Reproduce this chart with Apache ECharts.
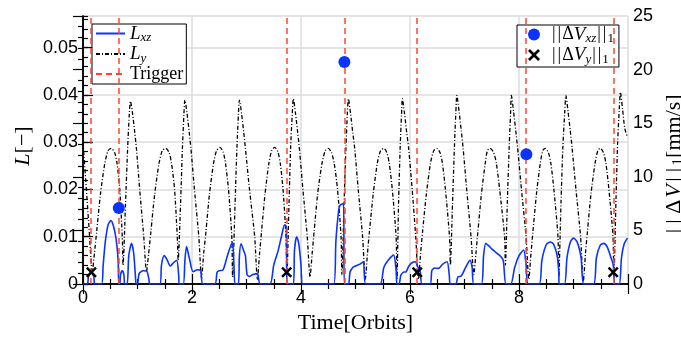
<!DOCTYPE html>
<html><head><meta charset="utf-8">
<script src="https://cdn.jsdelivr.net/npm/echarts@6/dist/echarts.min.js"></script>
<style>html,body{margin:0;padding:0;background:#fff}#c{width:681px;height:338px}</style>
</head><body><div id="c"></div>
<script>
// ---- axis ranges / ticks ----
const X_MAX = 10, X_STEP = 2;
const L_MAX = 0.0567, L_STEP = 0.01, L_MINOR = 0.002;
const DV_MAX = 25, DV_STEP = 5;

// ---- trigger times [orbits] ----
const triggerTimes = [0.154, 0.656, 3.737, 4.796, 6.132, 8.135, 9.728];

// ---- impulses [mm/s] ----
const dVxz = [[0.656, 7.1], [4.796, 20.7], [8.135, 12.1]];
const dVy = [[0.154, 1.1], [3.737, 1.1], [6.132, 1.1], [9.728, 1.1]];

// ---- L_xz ----
const Lxz = [
[0,0],[0.08,0],[0.1,0.0015],[0.15,0.0026],[0.2,0.0015],[0.215,0],
[0.34,0],[0.37,0.004],[0.41,0.009],[0.46,0.0125],[0.51,0.0134],[0.56,0.0122],[0.61,0.0093],[0.645,0.005],[0.656,0],
[0.675,0],[0.69,0.002],[0.72,0.0028],[0.75,0.002],[0.765,0],
[0.81,0],[0.84,0.006],[0.89,0.0086],[0.93,0.0065],[0.96,0.002],[0.975,0],
[1.0,0],[1.03,0.0022],[1.1,0.0028],[1.17,0.0027],[1.21,0.001],[1.225,0],
[1.41,0],[1.44,0.004],[1.49,0.006],[1.54,0.0052],[1.6,0.0038],[1.66,0.0045],[1.72,0.005],[1.755,0.002],[1.765,0],
[1.84,0],[1.87,0.005],[1.9,0.0079],[1.95,0.0055],[2.02,0.0026],[2.1,0.003],[2.16,0.0028],[2.2,0],
[2.42,0],[2.46,0.0025],[2.5,0.0028],[2.57,0.003],[2.65,0.006],[2.74,0.0089],[2.77,0.004],[2.79,0],
[2.85,0],[2.87,0.006],[2.9,0.0085],[2.95,0.007],[2.98,0.006],[3.01,0.002],[3.05,0.0016],[3.12,0.002],[3.2,0.0022],[3.25,0],
[3.43,0],[3.5,0.004],[3.58,0.007],[3.64,0.01],[3.7,0.0125],[3.73,0.0121],[3.745,0],
[3.86,0],[3.88,0.007],[3.92,0.01],[3.96,0.0085],[4.0,0.004],[4.03,0],
[4.6,0],[4.64,0.009],[4.69,0.0155],[4.72,0.0167],[4.78,0.017],[4.795,0],
[4.87,0],[4.9,0.0025],[4.95,0.0035],[5.0,0.0038],[5.08,0.0042],[5.145,0.0047],[5.19,0],
[5.45,0],[5.52,0.0035],[5.6,0.005],[5.7,0.0061],[5.745,0.003],[5.76,0],
[5.8,0],[5.83,0.0018],[5.88,0.0025],[5.93,0.0026],[5.98,0.0038],[6.05,0.0046],[6.095,0.0047],[6.15,0.0035],[6.19,0.0025],[6.22,0],
[6.37,0],[6.4,0.0028],[6.45,0.0034],[6.52,0.0033],[6.6,0.0042],[6.68,0.0047],[6.72,0.002],[6.74,0],
[6.84,0],[6.88,0.0015],[6.94,0.0017],[7.02,0.0035],[7.1,0.005],[7.14,0.0035],[7.17,0],
[7.31,0],[7.35,0.006],[7.39,0.0086],[7.45,0.008],[7.52,0.0072],[7.64,0.0061],[7.71,0.005],[7.76,0],
[7.85,0],[7.92,0.0035],[8.0,0.006],[8.085,0.0072],[8.13,0.004],[8.17,0],
[8.37,0],[8.42,0.005],[8.5,0.0083],[8.575,0.0089],[8.64,0.0083],[8.7,0.006],[8.73,0.0025],[8.735,0],
[8.835,0],[8.88,0.0055],[8.94,0.0088],[9.0,0.0097],[9.07,0.0088],[9.14,0.0055],[9.19,0],
[9.37,0],[9.42,0.0055],[9.49,0.0082],[9.555,0.0086],[9.62,0.0078],[9.69,0.0055],[9.73,0.004],[9.76,0],
[9.84,0],[9.88,0.0055],[9.93,0.0085],[9.99,0.0097]
];

// ---- L_y ----
const Ly = [
[0,0.030],[0.05,0.022],[0.11,0.012],[0.17,0.0026],
[0.21,0.0065],[0.25,0.011],[0.32,0.019],[0.40,0.0255],[0.46,0.0282],[0.52,0.0287],[0.58,0.0278],[0.625,0.0255],[0.675,0.020],[0.72,0.010],[0.735,0.004],[0.78,0.017],[0.82,0.029],[0.85,0.036],[0.87,0.0387],[0.91,0.036],[0.95,0.032],[0.98,0.0287],[1.04,0.020],[1.115,0.010],[1.165,0.0026],
[1.205,0.0065],[1.245,0.011],[1.315,0.019],[1.395,0.0255],[1.455,0.0282],[1.52,0.0287],[1.58,0.0278],[1.625,0.0255],[1.68,0.020],[1.73,0.010],[1.746,0.005],[1.79,0.017],[1.825,0.029],[1.852,0.036],[1.87,0.0389],[1.91,0.036],[1.95,0.032],[1.98,0.0287],[2.045,0.020],[2.125,0.010],[2.175,0.0013],
[2.215,0.0065],[2.255,0.011],[2.32,0.019],[2.395,0.0255],[2.45,0.0282],[2.51,0.0289],[2.57,0.028],[2.615,0.0255],[2.67,0.020],[2.73,0.010],[2.745,0.0015],[2.79,0.017],[2.825,0.029],[2.852,0.036],[2.87,0.0389],[2.91,0.036],[2.95,0.032],[2.98,0.0287],[3.055,0.020],[3.15,0.010],[3.20,0.001],
[3.24,0.0065],[3.275,0.011],[3.34,0.019],[3.41,0.0255],[3.465,0.0283],[3.52,0.0289],[3.575,0.028],[3.62,0.0255],[3.67,0.020],[3.725,0.010],[3.74,0.0015],[3.78,0.017],[3.81,0.029],[3.84,0.036],[3.86,0.0392],[3.90,0.036],[3.94,0.032],[3.97,0.0287],[4.035,0.020],[4.115,0.010],[4.166,0.0015],
[4.205,0.0065],[4.24,0.011],[4.305,0.019],[4.385,0.0255],[4.445,0.0282],[4.50,0.0287],[4.56,0.0278],[4.61,0.0255],[4.67,0.020],[4.735,0.010],[4.75,0.002],[4.79,0.017],[4.825,0.029],[4.85,0.036],[4.87,0.0392],[4.91,0.036],[4.95,0.032],[4.985,0.0287],[5.05,0.020],[5.13,0.010],[5.18,0.001],
[5.22,0.0065],[5.255,0.011],[5.325,0.019],[5.40,0.0255],[5.46,0.0282],[5.52,0.0287],[5.575,0.0278],[5.62,0.0255],[5.675,0.020],[5.745,0.010],[5.76,0.001],[5.79,0.017],[5.82,0.029],[5.845,0.036],[5.86,0.0392],[5.90,0.036],[5.94,0.032],[5.975,0.0287],[6.04,0.020],[6.105,0.010],[6.155,0.001],
[6.195,0.0065],[6.23,0.011],[6.30,0.019],[6.375,0.0255],[6.435,0.0282],[6.49,0.0287],[6.55,0.0278],[6.595,0.0255],[6.65,0.020],[6.725,0.010],[6.74,0.004],[6.78,0.017],[6.815,0.029],[6.84,0.036],[6.86,0.0399],[6.90,0.0365],[6.94,0.0325],[6.975,0.0287],[7.04,0.020],[7.12,0.010],[7.17,0.002],
[7.21,0.0065],[7.245,0.011],[7.31,0.019],[7.38,0.0255],[7.42,0.0282],[7.47,0.0287],[7.535,0.0278],[7.585,0.0255],[7.645,0.020],[7.735,0.010],[7.75,0.004],[7.785,0.017],[7.82,0.029],[7.845,0.036],[7.86,0.0399],[7.90,0.0365],[7.94,0.0325],[7.975,0.0287],[8.045,0.020],[8.13,0.010],[8.18,0.001],
[8.22,0.0065],[8.255,0.011],[8.32,0.019],[8.39,0.0255],[8.435,0.0282],[8.48,0.0287],[8.54,0.0278],[8.585,0.0255],[8.64,0.020],[8.715,0.010],[8.73,0.0015],[8.77,0.017],[8.805,0.029],[8.84,0.0365],[8.86,0.0399],[8.90,0.0365],[8.94,0.0325],[8.975,0.0287],[9.045,0.020],[9.13,0.010],[9.18,0.0005],
[9.22,0.0065],[9.255,0.011],[9.32,0.019],[9.395,0.0255],[9.445,0.0282],[9.49,0.0287],[9.55,0.0278],[9.595,0.0255],[9.65,0.020],[9.725,0.010],[9.74,0.0015],[9.78,0.018],[9.81,0.030],[9.84,0.037],[9.86,0.0406],[9.90,0.037],[9.94,0.033],[9.99,0.031]
];

const BLUE = '#0a33ff', RED = '#ff4433';
const SERIF = 'Liberation Serif', SANS = 'Liberation Sans';
const crossPath = 'path://M0,1.6L1.6,0L5,3.4L8.4,0L10,1.6L6.6,5L10,8.4L8.4,10L5,6.6L1.6,10L0,8.4L3.4,5Z';

const rich = {
  i: {fontFamily: SERIF, fontStyle: 'italic', fontSize: 19, lineHeight: 22, color: '#000'},
  r: {fontFamily: SERIF, fontSize: 18, lineHeight: 22, color: '#000'},
  b: {fontFamily: SERIF, fontSize: 18, lineHeight: 22, color: '#000', padding: [0, 1, 0, 1]},
  b0: {fontFamily: SERIF, fontSize: 18, lineHeight: 22, color: '#000', padding: [0, 1, 0, 7]},
  si: {fontFamily: SERIF, fontStyle: 'italic', fontSize: 13, lineHeight: 13, color: '#000', verticalAlign: 'bottom'},
  s: {fontFamily: SERIF, fontSize: 13, lineHeight: 13, color: '#000', verticalAlign: 'bottom'}
};
const nameRich = {
  i: {fontFamily: SERIF, fontStyle: 'italic', fontSize: 22, lineHeight: 24, color: '#000'},
  r: {fontFamily: SERIF, fontSize: 22, lineHeight: 24, color: '#000'},
  d: {fontFamily: SERIF, fontSize: 22, lineHeight: 24, color: '#000', padding: [0, 2, 0, 3]},
  b: {fontFamily: SERIF, fontSize: 22, lineHeight: 24, color: '#000', padding: [0, 2.5, 0, 2.5]},
  s: {fontFamily: SERIF, fontSize: 15, lineHeight: 15, color: '#000', verticalAlign: 'bottom'}
};
const labels = {
  Lxz: '{i|L}{si|xz}',
  Ly: '{i|L}{si|y}',
  Trigger: '{r|Trigger}',
  dVxz: '{b0||}{b||}{r|Δ}{i|V}{si|xz}{b||}{b||}{s|1}',
  dVy: '{b0||}{b||}{r|Δ}{i|V}{si|y}{b||}{b||}{s|1}'
};

const tickStyle = {color: '#000', width: 1.2};
const axisLineStyle = {color: '#000', width: 1.5};
const labelStyle = {color: '#000', fontSize: 18, fontFamily: SANS, margin: 5};

const chart = echarts.init(document.getElementById('c'), null, {renderer: 'canvas'});
chart.setOption({
  animation: false,
  backgroundColor: '#fff',
  grid: {left: 83, right: 53, top: 16, bottom: 54, containLabel: false, outerBoundsMode: 'none'},
  legend: [{
    left: 92, top: 24, orient: 'vertical', selectedMode: false,
    data: ['Lxz', 'Ly', 'Trigger'],
    itemWidth: 29, itemHeight: 14, itemGap: 0,
    padding: [0, 3, 1, 3],
    itemStyle: {opacity: 0},
    backgroundColor: '#fff', borderColor: '#000', borderWidth: 1, borderRadius: 0,
    formatter: n => labels[n], textStyle: {rich: rich}
  }, {
    left: 517, top: 25, orient: 'vertical', selectedMode: false,
    data: [{name: 'dVxz', icon: 'circle'}, {name: 'dVy', icon: crossPath}],
    itemWidth: 12, itemHeight: 12, itemGap: 0,
    padding: [0, 5, 1, 11],
    backgroundColor: '#fff', borderColor: '#000', borderWidth: 1, borderRadius: 0,
    formatter: n => labels[n], textStyle: {rich: rich}
  }],
  xAxis: [{
    type: 'value', min: 0, max: X_MAX, interval: X_STEP, position: 'bottom',
    axisLine: {show: true, lineStyle: axisLineStyle},
    axisTick: {show: true, inside: true, length: 10, lineStyle: tickStyle},
    minorTick: {show: true, splitNumber: 4, length: 5, lineStyle: tickStyle},
    axisLabel: Object.assign({showMaxLabel: false}, labelStyle),
    splitLine: {show: true, lineStyle: {color: '#dddddd', width: 1.5}},
    name: 'Time[Orbits]', nameLocation: 'middle', nameGap: 28,
    nameTextStyle: {fontFamily: SERIF, fontSize: 22, color: '#000'}
  }, {
    type: 'value', min: 0, max: X_MAX, interval: X_STEP, position: 'top',
    axisLine: {show: true, lineStyle: axisLineStyle},
    axisTick: {show: true, inside: true, length: 10, lineStyle: tickStyle},
    minorTick: {show: true, splitNumber: 4, length: 5, lineStyle: tickStyle},
    axisLabel: {show: false}, splitLine: {show: false}
  }],
  yAxis: [{
    type: 'value', min: 0, max: L_MAX, interval: L_STEP, position: 'left',
    axisLine: {show: true, lineStyle: axisLineStyle},
    axisTick: {show: true, inside: true, length: 10, lineStyle: tickStyle},
    axisLabel: Object.assign({showMaxLabel: false}, labelStyle),
    splitLine: {show: true, lineStyle: {color: '#dddddd', width: 1.5}},
    name: '{i|L}{r|[−]}', nameLocation: 'middle', nameRotate: 90, nameGap: 48,
    nameMoveOverlap: false,
    nameTextStyle: {rich: nameRich, padding: [0, 0, 0, 8]}
  }, {
    type: 'value', min: 0, max: DV_MAX, interval: DV_STEP, position: 'right',
    axisLine: {show: true, lineStyle: axisLineStyle},
    axisTick: {show: true, inside: true, length: 10, lineStyle: tickStyle},
    minorTick: {show: true, splitNumber: 5, length: 5, lineStyle: tickStyle},
    axisLabel: labelStyle,
    splitLine: {show: false},
    name: '{b||}{b||}{d|Δ}{i|V}{b||}{b||}{s|1}{r|[mm/s]}', nameLocation: 'middle', nameRotate: 90, nameGap: 34,
    nameMoveOverlap: false,
    nameTextStyle: {rich: nameRich, padding: [0, 30, 0, 0]}
  }, {
    type: 'value', min: 0, max: L_MAX, interval: L_MINOR, position: 'left',
    axisLine: {show: false},
    axisTick: {show: true, inside: true, length: 5, lineStyle: tickStyle},
    axisLabel: {show: false}, splitLine: {show: false}
  }],
  series: [{
    name: 'Lxz', type: 'line', xAxisIndex: 0, yAxisIndex: 0, data: Lxz,
    symbol: 'none', smooth: 0.25, lineStyle: {color: BLUE, width: 1.6}, itemStyle: {color: BLUE}, z: 3
  }, {
    name: 'Ly', type: 'line', xAxisIndex: 0, yAxisIndex: 0, data: Ly,
    symbol: 'none', smooth: 0.25, lineStyle: {color: '#000', width: 1.3, type: [4, 2, 1, 2]}, itemStyle: {color: '#000'}, z: 2
  }, {
    name: 'Trigger', type: 'line', xAxisIndex: 0, yAxisIndex: 0, data: [],
    symbol: 'none', lineStyle: {color: RED, width: 1.5, type: [6, 4]}, itemStyle: {color: RED}, z: 4,
    markLine: {
      silent: true, symbol: ['none', 'none'], label: {show: false},
      lineStyle: {color: RED, width: 1.5, type: [6, 4]},
      data: triggerTimes.map(t => ({xAxis: t}))
    }
  }, {
    name: 'dVxz', type: 'scatter', xAxisIndex: 0, yAxisIndex: 1, data: dVxz,
    symbol: 'circle', symbolSize: 12, itemStyle: {color: BLUE, opacity: 1}, z: 6
  }, {
    name: 'dVy', type: 'scatter', xAxisIndex: 0, yAxisIndex: 1, data: dVy,
    symbol: crossPath, symbolSize: 11, itemStyle: {color: '#000', opacity: 1}, z: 6
  }]
});
</script></body></html>
